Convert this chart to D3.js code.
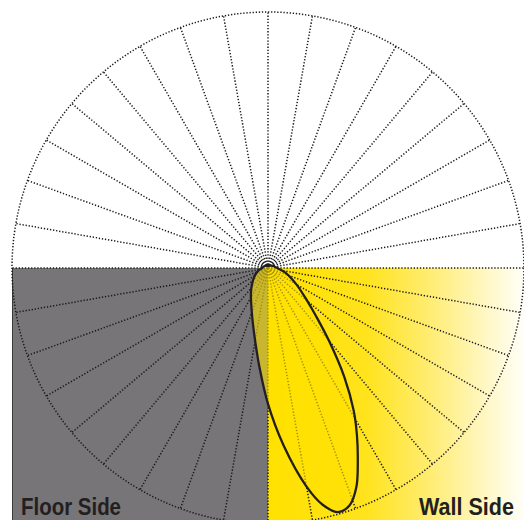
<!DOCTYPE html>
<html>
<head>
<meta charset="utf-8">
<script src="https://cdn.jsdelivr.net/npm/d3@7"></script>
<style>
  html, body { margin: 0; padding: 0; background: #ffffff; }
  svg { display: block; }
</style>
</head>
<body>
<div id="chart"></div>
<script>
// ---- data ----
// grid directions, degrees from nadir (0 = straight down), positive toward wall side
const gridAngles = [0, 10, 20, 30, 40, 50, 60, 70, 80, 90, 100, 110, 120, 130, 140, 150, 160, 170,
                    180, 190, 200, 210, 220, 230, 240, 250, 260, 270, 280, 290, 300, 310, 320, 330, 340, 350];
// luminous intensity distribution (% of max), angle from nadir
const lobeAngles = [-150, -120, -90, -75, -60, -45, -35, -25, -15, -10, -5, 0, 5, 10, 13, 16, 19, 22,
                    25, 28, 31, 35, 40, 45, 50, 60, 75, 90, 120, 150, 180];
const lobeValues = [1.0, 1.6, 2.3, 3.9, 5.9, 8.8, 11.6, 15.5, 22.7, 28.9, 38.7, 53.1, 69.5, 86.7, 94.9, 99.2, 98.0, 92.2,
                    83.0, 74.0, 65.0, 52.0, 37.0, 26.5, 20.0, 12.8, 7.0, 3.6, 1.8, 1.0, 0.8];
const maxValue = 100;
const sideLabels = ["Floor Side", "Wall Side"];

// ---- layout ----
const W = 524, H = 520;
const cx = 268, cy = 268, R = 256;
const rad = d => d * Math.PI / 180;

const svg = d3.select("#chart").append("svg")
  .attr("width", W).attr("height", H);

const r = d3.scaleLinear().domain([0, maxValue]).range([0, R]);

const defs = svg.append("defs");
const grad = defs.append("linearGradient").attr("id", "wallGrad")
  .attr("x1", "0%").attr("x2", "100%").attr("y1", "0%").attr("y2", "0%");
[[0, "#ffe100"], [0.38, "#ffe31c"], [0.62, "#ffec6e"], [0.85, "#fff7c4"], [1, "#fffff8"]]
  .forEach(([o, c]) => grad.append("stop").attr("offset", o).attr("stop-color", c));

svg.append("rect").attr("x", 0).attr("y", 0).attr("width", W).attr("height", H).attr("fill", "#ffffff");

// floor side (grey) and wall side (yellow gradient)
svg.append("rect").attr("x", cx - R).attr("y", cy).attr("width", R).attr("height", H - cy)
  .attr("fill", "#777577");
svg.append("line").attr("x1", cx - R + 0.5).attr("x2", cx - R + 0.5).attr("y1", cy).attr("y2", H)
  .attr("stroke", "#3a3a3a").attr("stroke-width", 1);
svg.append("rect").attr("x", cx).attr("y", cy).attr("width", W - cx).attr("height", H - cy)
  .attr("fill", "url(#wallGrad)");

// polar grid
const g = svg.append("g").attr("transform", `translate(${cx},${cy})`);
g.selectAll("line.spoke").data(gridAngles).join("line")
  .attr("class", "spoke")
  .attr("x1", 0).attr("y1", 0)
  .attr("x2", d => r(maxValue) * Math.sin(rad(d)))
  .attr("y2", d => r(maxValue) * Math.cos(rad(d)))
  .attr("stroke", "#1a1a1a")
  .attr("stroke-width", 1.5)
  .attr("stroke-dasharray", "1.3,1.8");
g.append("circle").attr("r", r(maxValue))
  .attr("fill", "none").attr("stroke", "#1a1a1a")
  .attr("stroke-width", 1.5).attr("stroke-dasharray", "1.3,1.8");

// distribution lobe
const pts = lobeAngles.map((a, i) => [a, lobeValues[i]]);
const lobe = d3.lineRadial()
  .angle(d => Math.PI - rad(d[0]))
  .radius(d => r(d[1]))
  .curve(d3.curveCatmullRomClosed.alpha(0.5));
g.append("path").attr("d", lobe(pts))
  .attr("fill", "#ffe100").attr("fill-opacity", 0.6)
  .attr("stroke", "none");
g.append("path").attr("d", lobe(pts))
  .attr("fill", "none").attr("stroke", "#231f20").attr("stroke-width", 2.3);

// side labels
svg.append("text").attr("x", 21).attr("y", 515)
  .attr("textLength", 100).attr("lengthAdjust", "spacingAndGlyphs")
  .attr("font-family", "'Liberation Sans', Arial, sans-serif").attr("font-weight", "bold")
  .attr("font-size", 24).attr("fill", "#231f20").text(sideLabels[0]);
svg.append("text").attr("x", 419).attr("y", 515)
  .attr("textLength", 95).attr("lengthAdjust", "spacingAndGlyphs")
  .attr("font-family", "'Liberation Sans', Arial, sans-serif").attr("font-weight", "bold")
  .attr("font-size", 24).attr("fill", "#231f20").text(sideLabels[1]);
</script>
</body>
</html>
